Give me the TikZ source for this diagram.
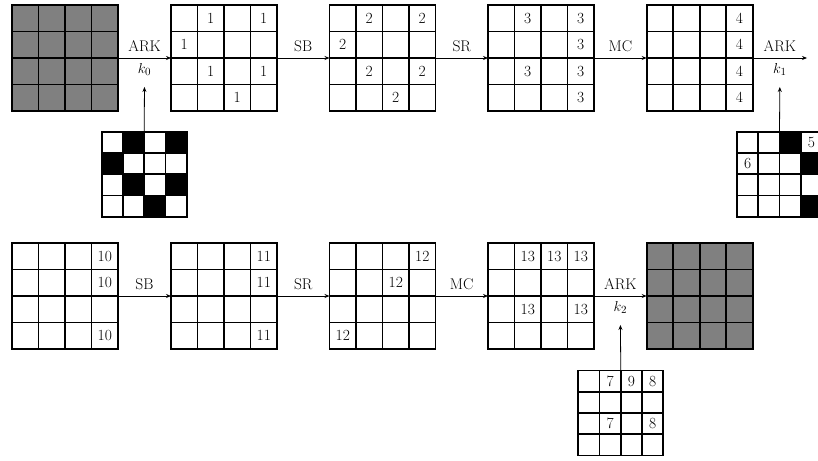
\documentclass[tikz,border=0pt]{standalone}
\usetikzlibrary{calc,arrows.meta}
\newcommand\mycells[2]{% #1 node name, #2 cell size
  \foreach \i in {1,2,3}{
    \draw[gl] ($(#1.north west)+({\i*#2},0)$) -- ($(#1.south west)+({\i*#2},0)$);
    \draw[gl] ($(#1.north west)+(0,{\i*#2})$) -- ($(#1.north east)+(0,{\i*#2})$);
  }
  \draw[border] (#1.north west) rectangle (#1.south east);}
\newcommand\mynum[5]{% name, size, col, row, text
  \node[num] at ($(#1.north west)+({(#3-0.5)*#2},{(#4-0.5)*#2})$) {#5};}
\newcommand\myblack[4]{% name, size, col, row
  \fill ($(#1.north west)+({(#3-1)*#2},{(#4-1)*#2})$) rectangle ++(#2,#2);}
\begin{document}
\begin{tikzpicture}[x=1pt,y=-1pt,font=\fontsize{15.5}{18}\selectfont]
\tikzset{
  mgrid/.style={minimum size=106pt,inner sep=0pt,outer sep=0pt},
  kgrid/.style={minimum size=85pt,inner sep=0pt,outer sep=0pt},
  graybox/.style={fill=gray},
  gl/.style={line width=1.6pt},
  border/.style={line width=1.8pt},
  arr/.style={-{Stealth[length=5pt,width=4pt]},line width=0.8pt},
  labup/.style={inner sep=5.5pt},
  labdn/.style={inner sep=5pt},
  num/.style={inner sep=0pt},
}
\clip (0,0) rectangle (818,460);
% ---------- top row ----------
\node[mgrid,graybox] (t1) at (65,58) {};
\node[mgrid] (t2) at (224,58) {};
\node[mgrid] (t3) at (382.5,58) {};
\node[mgrid] (t4) at (541,58) {};
\node[mgrid] (t5) at (699.7,58) {};
\node[kgrid] (k0) at (144.2,174.2) {};
\node[kgrid] (k1) at (779.5,174.2) {};
% ---------- bottom row ----------
\node[mgrid] (b1) at (65,296) {};
\node[mgrid] (b2) at (224,296) {};
\node[mgrid] (b3) at (382.5,296) {};
\node[mgrid] (b4) at (541,296) {};
\node[mgrid,graybox] (b5) at (699.7,296) {};
\node[kgrid] (k2) at (620.8,413) {};
% black key cells
\myblack{k0}{21.25}{2}{1}\myblack{k0}{21.25}{4}{1}
\myblack{k0}{21.25}{1}{2}
\myblack{k0}{21.25}{2}{3}\myblack{k0}{21.25}{4}{3}
\myblack{k0}{21.25}{3}{4}
\myblack{k1}{21.25}{3}{1}\myblack{k1}{21.25}{4}{2}\myblack{k1}{21.25}{4}{4}
% grid lines
\foreach \g in {t1,t2,t3,t4,t5,b1,b2,b3,b4,b5}{\mycells{\g}{26.5}}
\foreach \g in {k0,k1,k2}{\mycells{\g}{21.25}}
% numbers top
\mynum{t2}{26.5}{2}{1}{1}\mynum{t2}{26.5}{4}{1}{1}\mynum{t2}{26.5}{1}{2}{1}
\mynum{t2}{26.5}{2}{3}{1}\mynum{t2}{26.5}{4}{3}{1}\mynum{t2}{26.5}{3}{4}{1}
\mynum{t3}{26.5}{2}{1}{2}\mynum{t3}{26.5}{4}{1}{2}\mynum{t3}{26.5}{1}{2}{2}
\mynum{t3}{26.5}{2}{3}{2}\mynum{t3}{26.5}{4}{3}{2}\mynum{t3}{26.5}{3}{4}{2}
\mynum{t4}{26.5}{2}{1}{3}\mynum{t4}{26.5}{4}{1}{3}\mynum{t4}{26.5}{4}{2}{3}
\mynum{t4}{26.5}{2}{3}{3}\mynum{t4}{26.5}{4}{3}{3}\mynum{t4}{26.5}{4}{4}{3}
\mynum{t5}{26.5}{4}{1}{4}\mynum{t5}{26.5}{4}{2}{4}\mynum{t5}{26.5}{4}{3}{4}\mynum{t5}{26.5}{4}{4}{4}
\mynum{k1}{21.25}{4}{1}{5}\mynum{k1}{21.25}{1}{2}{6}
% numbers bottom
\mynum{b1}{26.5}{4}{1}{10}\mynum{b1}{26.5}{4}{2}{10}\mynum{b1}{26.5}{4}{4}{10}
\mynum{b2}{26.5}{4}{1}{11}\mynum{b2}{26.5}{4}{2}{11}\mynum{b2}{26.5}{4}{4}{11}
\mynum{b3}{26.5}{4}{1}{12}\mynum{b3}{26.5}{3}{2}{12}\mynum{b3}{26.5}{1}{4}{12}
\mynum{b4}{26.5}{2}{1}{13}\mynum{b4}{26.5}{3}{1}{13}\mynum{b4}{26.5}{4}{1}{13}
\mynum{b4}{26.5}{2}{3}{13}\mynum{b4}{26.5}{4}{3}{13}
\mynum{k2}{21.25}{2}{1}{7}\mynum{k2}{21.25}{3}{1}{9}\mynum{k2}{21.25}{4}{1}{8}
\mynum{k2}{21.25}{2}{3}{7}\mynum{k2}{21.25}{4}{3}{8}
% arrows top
\coordinate (e1) at (807,58);
\draw[arr] (t1.east) -- (t2.west) node[labup,midway,above] (a0) {ARK} node[labdn,midway,below] (l0) {$k_0$};
\draw[arr] (t2.east) -- (t3.west) node[labup,midway,above] (a1) {SB};
\draw[arr] (t3.east) -- (t4.west) node[labup,midway,above] (a2) {SR};
\draw[arr] (t4.east) -- (t5.west) node[labup,midway,above] (a3) {MC};
\draw[arr] (t5.east) -- (e1) node[labup,midway,above] (a4) {ARK} node[labdn,midway,below] (l1) {$k_1$};
\draw[arr,shorten >=6pt] (k0.north) -- (l0.south);
\draw[arr,shorten >=6pt] (k1.north) -- (l1.south);
% arrows bottom
\draw[arr] (b1.east) -- (b2.west) node[labup,midway,above] (c1) {SB};
\draw[arr] (b2.east) -- (b3.west) node[labup,midway,above] (c2) {SR};
\draw[arr] (b3.east) -- (b4.west) node[labup,midway,above] (c3) {MC};
\draw[arr] (b4.east) -- (b5.west) node[labup,midway,above] (c4) {ARK} node[labdn,midway,below] (l2) {$k_2$};
\draw[arr,shorten >=6pt] (k2.north) -- (l2.south);
\end{tikzpicture}
\end{document}
